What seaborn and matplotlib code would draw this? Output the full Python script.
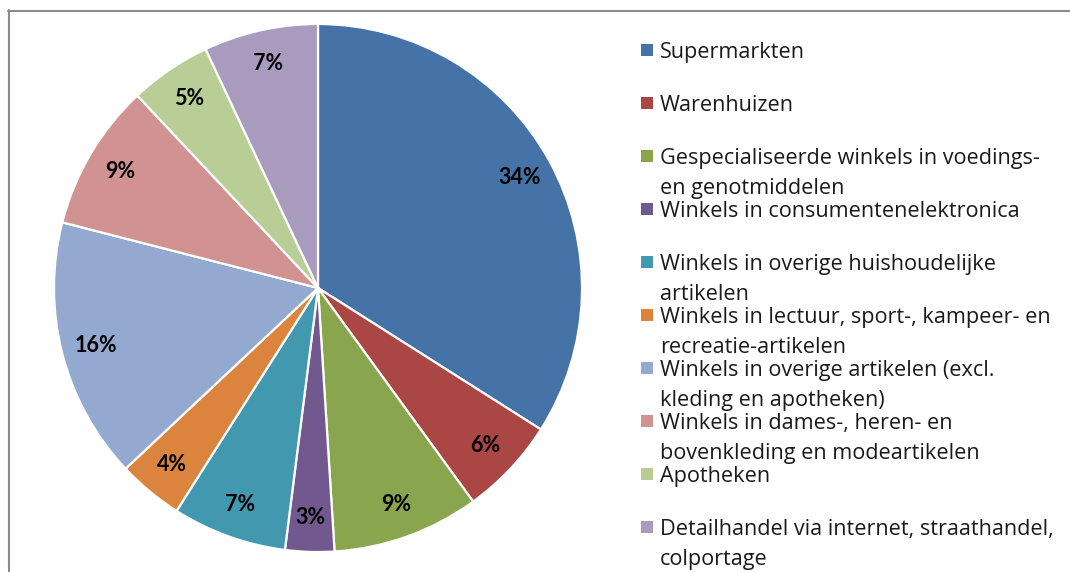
import matplotlib
matplotlib.use("Agg")
import matplotlib.pyplot as plt
import seaborn as sns
from matplotlib.patches import Rectangle
from matplotlib.lines import Line2D

categories = [
    "Supermarkten",
    "Warenhuizen",
    "Gespecialiseerde winkels in voedings-\nen genotmiddelen",
    "Winkels in consumentenelektronica",
    "Winkels in overige huishoudelijke\nartikelen",
    "Winkels in lectuur, sport-, kampeer- en\nrecreatie-artikelen",
    "Winkels in overige artikelen (excl.\nkleding en apotheken)",
    "Winkels in dames-, heren- en\nbovenkleding en modeartikelen",
    "Apotheken",
    "Detailhandel via internet, straathandel,\ncolportage",
]
values = [34, 6, 9, 3, 7, 4, 16, 9, 5, 7]
colors = ["#4572A7", "#AA4643", "#89A54E", "#71588F", "#4198AF",
          "#DB843D", "#93A9CF", "#D19392", "#B9CD96", "#A99BBD"]

sns.set_theme(style="white")
palette = sns.color_palette(colors)
plt.rcParams["font.family"] = ["Lato", "DejaVu Sans"]

W, H = 1070, 572
fig = plt.figure(figsize=(W / 100, H / 100), dpi=100)
fig.patch.set_facecolor("white")

# pie axes: centre (318, 288) px from top, radius 264 px
cx, cy, r = 318, 288, 264
ax = fig.add_axes([(cx - r) / W, (H - cy - r) / H, 2 * r / W, 2 * r / H])
wedges, texts, autotexts = ax.pie(
    values, colors=palette, startangle=90, counterclock=False,
    autopct="%1.0f%%", pctdistance=0.87, radius=1.0,
    wedgeprops=dict(edgecolor="white", linewidth=1.6),
    textprops=dict(fontsize=15.5, fontweight="bold", color="black"),
)
ax.set_xlim(-1.0, 1.0)
ax.set_ylim(-1.0, 1.0)
ax.set_aspect("equal")
ax.axis("off")

# frame lines (top and left)
fig.add_artist(Line2D([8 / W, 1.0], [1 - 10.5 / H, 1 - 10.5 / H],
                      transform=fig.transFigure, color="#8c8c8c", lw=1.5))
fig.add_artist(Line2D([8.5 / W, 8.5 / W], [0, 1 - 10 / H],
                      transform=fig.transFigure, color="#8c8c8c", lw=1.5))

# legend
row0, step, line_gap = 50, 53, 30
for i, (lab, col) in enumerate(zip(categories, palette)):
    yc = row0 + i * step
    fig.add_artist(Rectangle((641 / W, 1 - (yc + 6) / H), 12 / W, 12 / H,
                             transform=fig.transFigure, facecolor=col,
                             edgecolor="none"))
    for j, line in enumerate(lab.split("\n")):
        fig.text(660 / W, 1 - (yc + j * line_gap) / H, line,
                 fontsize=15.6, va="center_baseline", ha="left",
                 color="#1a1a1a", family=["Open Sans", "DejaVu Sans"])

fig.savefig("out.png", dpi=100, facecolor="white")
